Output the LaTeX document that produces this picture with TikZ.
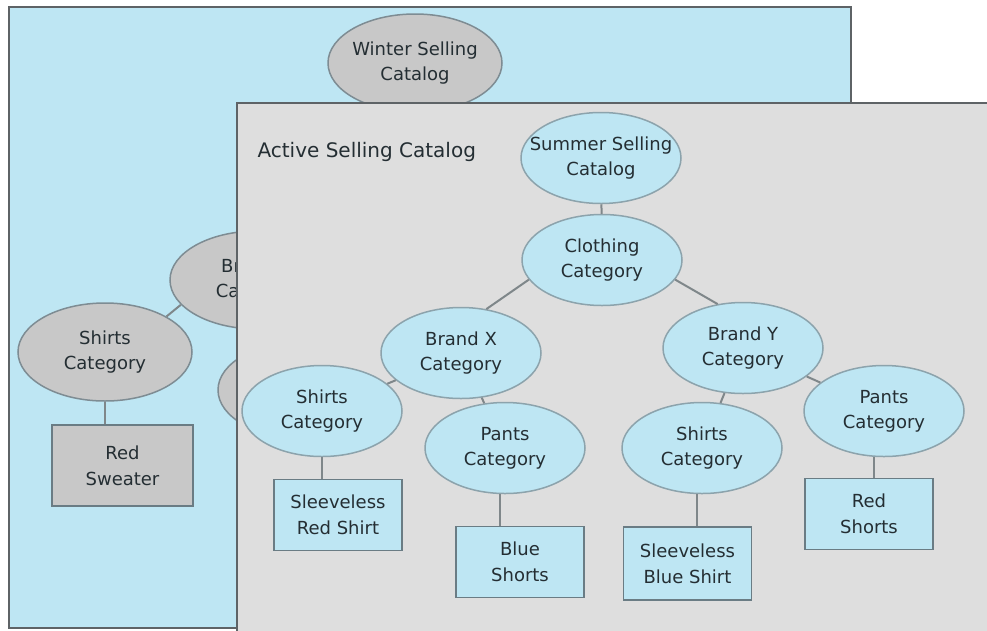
\documentclass[tikz,border=0pt]{standalone}
\usepackage{fontspec}
\setmainfont{DejaVu Sans}
\usetikzlibrary{shapes.geometric}

\definecolor{skyfill}{HTML}{BEE6F3}
\definecolor{panelfill}{HTML}{DEDEDE}
\definecolor{oldfill}{HTML}{C8C8C8}
\definecolor{ellline}{HTML}{8CA3AC}
\definecolor{oldline}{HTML}{7E8C93}
\definecolor{boxline}{HTML}{6A7C84}
\definecolor{frame}{HTML}{5E6366}
\definecolor{linkgray}{HTML}{7F878A}
\definecolor{ink}{HTML}{242E33}

\begin{document}
\begin{tikzpicture}[x=1pt,y=-1pt,
	cat/.style={ellipse, draw=ellline, fill=skyfill, line width=1.5pt,
		minimum width=160pt, minimum height=91pt, inner xsep=-16pt, inner ysep=0pt,
		align=center, text=ink, font=\fontsize{18}{25}\selectfont},
	oldcat/.style={cat, fill=oldfill, draw=oldline, minimum width=174pt, minimum height=98pt},
	item/.style={rectangle, draw=boxline, fill=skyfill, line width=1.8pt,
		minimum width=128pt, minimum height=71pt, inner sep=0pt,
		align=center, text=ink, font=\fontsize{18}{26}\selectfont},
	olditem/.style={item, fill=oldfill, minimum width=141pt, minimum height=81pt},
	link/.style={draw=linkgray, line width=2pt}]
	\useasboundingbox (0,0) rectangle (987,630);
	\clip (0,0) rectangle (987,630);
	\fill[white] (0,0) rectangle (987,630);

	\draw[draw=frame, line width=2.5pt, fill=skyfill] (9,7) rectangle (851,628);
	\node[oldcat] (winter) at (415,63) {Winter Selling\\Catalog};
	\node[oldcat] (oldbrandx) at (257,280) {Brand X\\Category};
	\node[oldcat] (oldshirts) at (105,352) {Shirts\\Category};
	\node[oldcat] (oldpants) at (305,390) {};
	\node[olditem] (sweater) at (122.5,465.5) {Red\\Sweater};
	\draw[link] (oldbrandx.198) -- (oldshirts.30);
	\draw[link] (oldshirts.south) -- (oldshirts.south |- sweater.north);

	\draw[draw=frame, line width=2.5pt, fill=panelfill] (237,103) rectangle (1000,640);
	\node[anchor=west, text=ink, font=\fontsize{20}{24}\selectfont] (title) at (254,152) {Active Selling Catalog};
	\node[cat] (summer) at (601,158) {Summer Selling\\Catalog};
	\node[cat] (clothing) at (602,260) {Clothing\\Category};
	\node[cat] (brandx) at (461,353) {Brand X\\Category};
	\node[cat] (brandy) at (743,348) {Brand Y\\Category};
	\node[cat] (shirtsx) at (322,411) {Shirts\\Category};
	\node[cat] (pantsx) at (505,448) {Pants\\Category};
	\node[cat] (shirtsy) at (702,448) {Shirts\\Category};
	\node[cat] (pantsy) at (884,411) {Pants\\Category};
	\node[item] (redshirt) at (338,515) {Sleeveless\\Red Shirt};
	\node[item] (blueshorts) at (520,562) {Blue\\Shorts};
	\node[item, minimum height=73pt] (blueshirt) at (687.5,563.5) {Sleeveless\\Blue Shirt};
	\node[item] (redshorts) at (869,514) {Red\\Shorts};

	\draw[link] (summer) -- (clothing);
	\draw[link] (clothing.195) -- (brandx.60);
	\draw[link] (clothing.345) -- (brandy.120);
	\draw[link] (brandx) -- (shirtsx);
	\draw[link] (brandx) -- (pantsx);
	\draw[link] (brandy) -- (shirtsy);
	\draw[link] (brandy) -- (pantsy);
	\draw[link] (shirtsx.south) -- (shirtsx.south |- redshirt.north);
	\draw[link] (pantsx.south) ++(-5,0) coordinate (px) -- (px |- blueshorts.north);
	\draw[link] (shirtsy.south) ++(-5,0) coordinate (sy) -- (sy |- blueshirt.north);
	\draw[link] (pantsy.south) ++(-10,0) coordinate (py) -- (py |- redshorts.north);
\end{tikzpicture}
\end{document}
